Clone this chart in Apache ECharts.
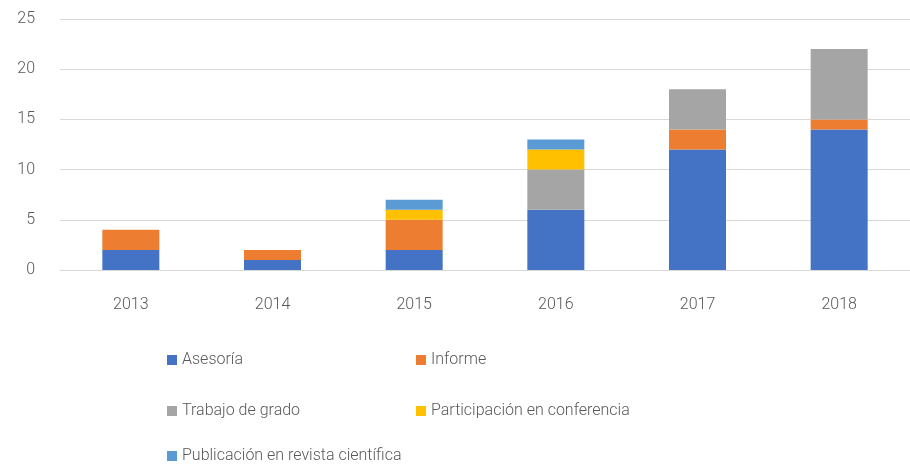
<!DOCTYPE html>
<html>
<head>
<meta charset="utf-8">
<script src="https://cdn.jsdelivr.net/npm/echarts@6/dist/echarts.min.js"></script>
<style>
html, body { margin: 0; padding: 0; background: #fff; }
#chart { width: 910px; height: 464px; }
</style>
</head>
<body>
<div id="chart"></div>
<script>
const years = ['2013', '2014', '2015', '2016', '2017', '2018'];
const asesoria = [2, 1, 2, 6, 12, 14];
const informe = [2, 1, 3, 0, 2, 1];
const trabajoGrado = [0, 0, 0, 4, 4, 7];
const participacion = [0, 0, 1, 2, 0, 0];
const publicacion = [0, 0, 1, 1, 0, 0];
const yTicks = [0, 5, 10, 15, 20, 25];

const font = 'Roboto, sans-serif';
const textColor = '#595959';

const chart = echarts.init(document.getElementById('chart'));

function bar(name, data, color) {
  return {
    name: name,
    type: 'bar',
    stack: 'total',
    data: data,
    barWidth: 57,
    itemStyle: { color: color },
    emphasis: { disabled: true }
  };
}

function legendAt(names, left, top) {
  return {
    data: names,
    left: left,
    top: top,
    orient: 'vertical',
    itemWidth: 10,
    itemHeight: 10,
    itemGap: 10,
    icon: 'rect',
    textStyle: { fontFamily: font, fontSize: 16, fontWeight: 300, color: textColor }
  };
}

chart.setOption({
  animation: false,
  grid: { left: 60, top: 19, right: 0, bottom: 194 },
  legend: [
    legendAt(['Asesoría'], 162, 347),
    legendAt(['Informe'], 411, 347),
    legendAt(['Trabajo de grado'], 162, 398),
    legendAt(['Participación en conferencia'], 411, 398),
    legendAt(['Publicación en revista científica'], 162, 443)
  ],
  xAxis: {
    type: 'category',
    data: years,
    axisLine: { show: true, lineStyle: { color: '#d9d9d9' } },
    axisTick: { show: false },
    axisLabel: { margin: 27, fontFamily: font, fontSize: 16, fontWeight: 300, color: textColor }
  },
  yAxis: {
    type: 'value',
    min: yTicks[0],
    max: yTicks[yTicks.length - 1],
    interval: 5,
    axisLine: { show: false },
    axisTick: { show: false },
    splitLine: { lineStyle: { color: '#d9d9d9', width: 1 } },
    axisLabel: { margin: 25, fontFamily: font, fontSize: 16, fontWeight: 300, color: textColor }
  },
  series: [
    bar('Asesoría', asesoria, '#4472C4'),
    bar('Informe', informe, '#ED7D31'),
    bar('Trabajo de grado', trabajoGrado, '#A5A5A5'),
    bar('Participación en conferencia', participacion, '#FFC000'),
    bar('Publicación en revista científica', publicacion, '#5B9BD5')
  ]
});
</script>
</body>
</html>
